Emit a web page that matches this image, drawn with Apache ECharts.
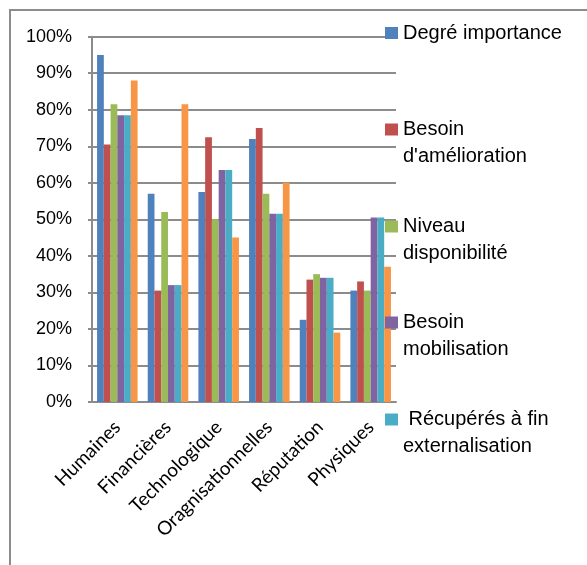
<!DOCTYPE html>
<html>
<head>
<meta charset="utf-8">
<script src="https://cdn.jsdelivr.net/npm/echarts@6/dist/echarts.min.js"></script>
<style>
  html, body { margin: 0; padding: 0; background: #fff; }
  #chart { width: 587px; height: 565px; }
</style>
</head>
<body>
<div id="chart"></div>
<script>
// Resource categories on the x axis
const categories = ['Humaines', 'Financières', 'Technologique', 'Oragnisationnelles', 'Réputation', 'Physiques'];

// Percentages per category for each series
const degreImportance     = [95, 57, 57.5, 72, 22.5, 30.5];
const besoinAmelioration  = [70.5, 30.5, 72.5, 75, 33.5, 33];
const niveauDisponibilite = [81.5, 52, 50, 57, 35, 30.5];
const besoinMobilisation  = [78.5, 32, 63.5, 51.5, 34, 50.5];
const recuperesFin        = [78.5, 32, 63.5, 51.5, 34, 50.5];
const sixiemeSerie        = [88, 81.5, 45, 60, 19, 37];

// Y axis ticks (percent)
const yTicks = [0, 10, 20, 30, 40, 50, 60, 70, 80, 90, 100];

// Series names and the wrapped text shown in the legend
const seriesNames = ['Degré importance', "Besoin d'amélioration", 'Niveau disponibilité', 'Besoin mobilisation', 'Récupérés à fin externalisation', 'Série 6'];
const legendTexts = ['Degré importance', "Besoin\nd'amélioration", 'Niveau\ndisponibilité', 'Besoin\nmobilisation', ' Récupérés à fin\nexternalisation'];
const seriesValues = [degreImportance, besoinAmelioration, niveauDisponibilite, besoinMobilisation, recuperesFin, sixiemeSerie];
const colors = ['#4F81BD', '#C0504D', '#9BBB59', '#8064A2', '#4BACC6', '#F79646'];

const chart = echarts.init(document.getElementById('chart'), null, { renderer: 'canvas' });

// One legend per entry so each swatch lines up with the first line of its text.
// A leading empty line keeps the first text line centred on the swatch.
const legendTops = [19.5, 89, 186, 282, 379];
const legends = legendTexts.map((txt, i) => {
  const twoLines = txt.indexOf('\n') >= 0;
  return {
    orient: 'vertical',
    left: 385,
    top: legendTops[i],
    padding: 0,
    itemWidth: 13,
    itemHeight: 12,
    icon: 'rect',
    selectedMode: false,
    data: [seriesNames[i]],
    formatter: () => (twoLines ? '\n' + txt : txt),
    textStyle: {
      fontFamily: '"Liberation Sans", Arial, sans-serif',
      fontSize: 20,
      lineHeight: 27,
      color: '#000'
    }
  };
});

const option = {
  animation: false,
  color: colors,
  grid: { left: 92, right: 191, top: 36.7, bottom: 163, containLabel: false },
  legend: legends,
  graphic: [{
    type: 'rect',
    shape: { x: 10, y: 10, width: 700, height: 700 },
    style: { fill: 'none', stroke: '#8c8c8c', lineWidth: 2 },
    silent: true
  }],
  xAxis: {
    type: 'category',
    data: categories,
    axisLine: { show: true, lineStyle: { color: '#8c8c8c', width: 2 } },
    axisTick: { show: false },
    axisLabel: {
      rotate: 45,
      margin: 22,
      interval: 0,
      fontFamily: 'Lato, "Open Sans", sans-serif',
      fontSize: 19,
      color: '#000'
    }
  },
  yAxis: {
    type: 'value',
    min: yTicks[0],
    max: yTicks[yTicks.length - 1],
    interval: yTicks[1] - yTicks[0],
    axisLine: { show: true, lineStyle: { color: '#8c8c8c', width: 2 } },
    axisTick: { show: true, length: 4, lineStyle: { color: '#8c8c8c', width: 2 } },
    splitLine: { show: true, lineStyle: { color: '#8c8c8c', width: 2 } },
    axisLabel: {
      margin: 20,
      formatter: '{value}%',
      fontFamily: '"Liberation Sans", Arial, sans-serif',
      fontSize: 18,
      color: '#000'
    }
  },
  series: seriesValues.map((vals, i) => ({
    name: seriesNames[i],
    type: 'bar',
    data: vals,
    barGap: '0%',
    barCategoryGap: '20%',
    itemStyle: { color: colors[i] }
  }))
};

chart.setOption(option);
</script>
</body>
</html>
